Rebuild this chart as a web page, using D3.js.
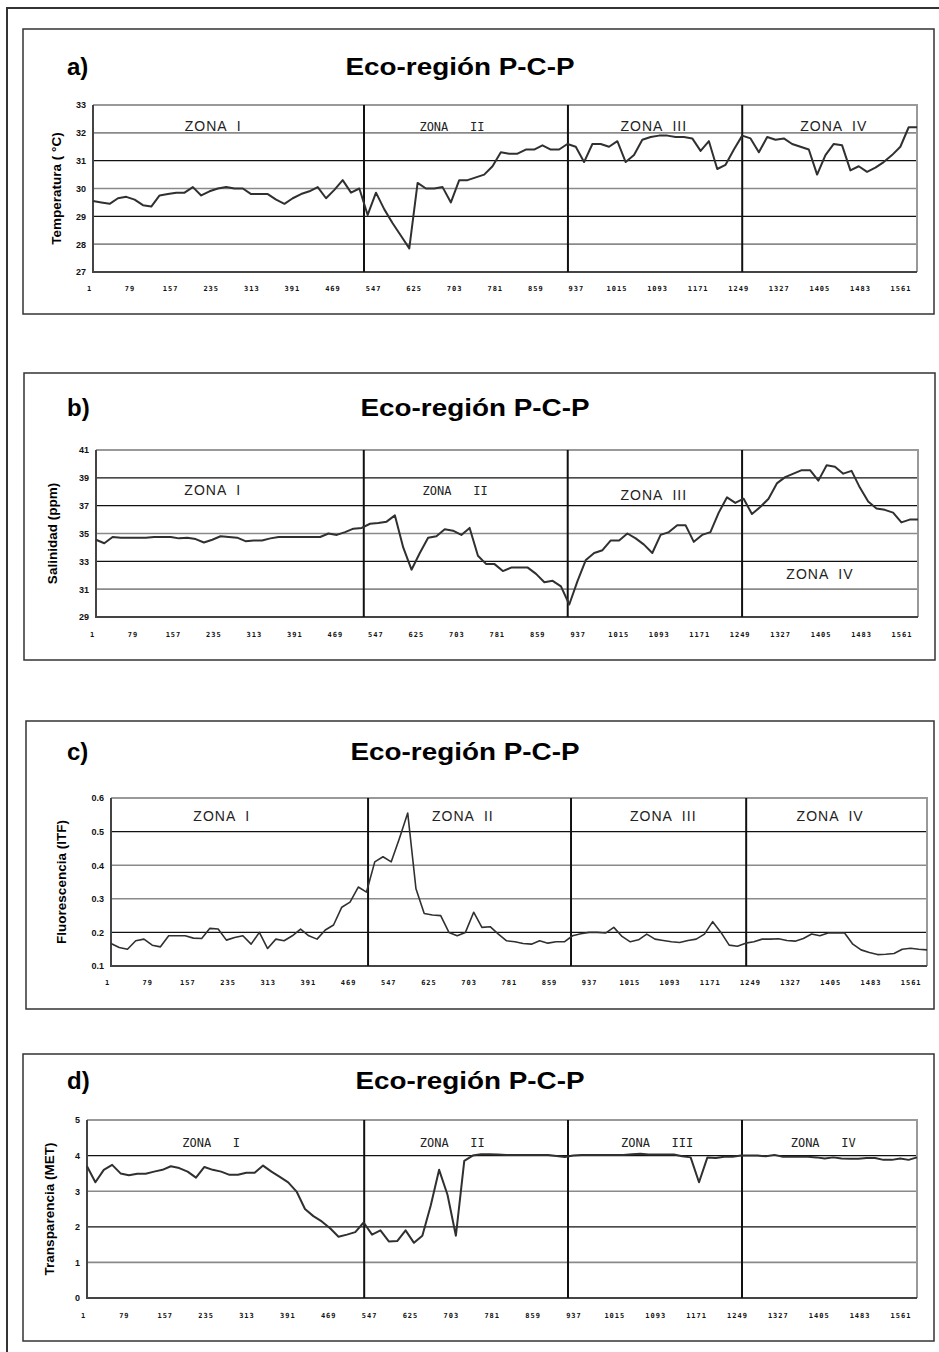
<!DOCTYPE html>
<html>
<head>
<meta charset="utf-8">
<script src="https://cdn.jsdelivr.net/npm/d3@7"></script>
<style>
  body { margin: 0; background: #fff; }
  svg { display: block; }
</style>
</head>
<body>
<svg id="chart" width="939" height="1352"></svg>
<script>
// record numbers shown under every x axis
const xTickLabels = [1, 79, 157, 235, 313, 391, 469, 547, 625, 703, 781, 859, 937, 1015, 1093, 1171, 1249, 1327, 1405, 1483, 1561];

// one reading every 16 records
const SAMPLE_STEP = 16;

const temperatura = [
  29.55, 29.5, 29.45, 29.65, 29.7, 29.6, 29.4, 29.35, 29.75, 29.8,
  29.85, 29.85, 30.05, 29.75, 29.9, 30.0, 30.05, 30.0, 30.0, 29.8,
  29.8, 29.8, 29.6, 29.45, 29.65, 29.8, 29.9, 30.05, 29.65, 29.95,
  30.3, 29.85, 30.0, 29.05, 29.85, 29.25, 28.75, 28.3, 27.85, 30.2,
  30.0, 30.0, 30.05, 29.5, 30.3, 30.3, 30.4, 30.5, 30.8, 31.3,
  31.25, 31.25, 31.4, 31.4, 31.55, 31.4, 31.4, 31.6, 31.5, 30.95,
  31.6, 31.6, 31.5, 31.7, 30.95, 31.2, 31.75, 31.85, 31.9, 31.9,
  31.85, 31.85, 31.8, 31.35, 31.7, 30.7, 30.85, 31.4, 31.9, 31.8,
  31.3, 31.85, 31.75, 31.8, 31.6, 31.5, 31.4, 30.5, 31.2, 31.6,
  31.55, 30.65, 30.8, 30.6, 30.75, 30.95, 31.2, 31.5, 32.2, 32.2
];

const salinidad = [
  34.55, 34.3, 34.75, 34.7, 34.7, 34.7, 34.7, 34.75, 34.75, 34.75,
  34.65, 34.7, 34.6, 34.35, 34.55, 34.8, 34.75, 34.7, 34.45, 34.5,
  34.5, 34.65, 34.75, 34.75, 34.75, 34.75, 34.75, 34.75, 35.0, 34.9,
  35.1, 35.35, 35.4, 35.7, 35.75, 35.85, 36.3, 34.0, 32.4, 33.6,
  34.7, 34.8, 35.3, 35.2, 34.9, 35.4, 33.4, 32.8, 32.8, 32.3,
  32.55, 32.55, 32.55, 32.1, 31.5, 31.6, 31.2, 29.9, 31.6, 33.1,
  33.6, 33.8, 34.5, 34.5, 35.0, 34.65, 34.2, 33.6, 34.9, 35.1,
  35.6, 35.6, 34.4, 34.9, 35.1, 36.5, 37.6, 37.2, 37.5, 36.4,
  36.9, 37.5, 38.6, 39.05, 39.3, 39.55, 39.55, 38.8, 39.9, 39.8,
  39.3, 39.5, 38.3, 37.3, 36.8, 36.7, 36.5, 35.8, 36.0, 36.0
];

const fluorescencia = [
  0.167, 0.155, 0.15, 0.175, 0.18, 0.162, 0.157, 0.19, 0.19, 0.19,
  0.183, 0.182, 0.212, 0.21, 0.177, 0.185, 0.19, 0.165, 0.2, 0.152,
  0.18, 0.175, 0.19, 0.21, 0.19, 0.18, 0.207, 0.222, 0.275, 0.29,
  0.335, 0.32, 0.41, 0.425, 0.41, 0.48, 0.555, 0.33, 0.256, 0.252,
  0.25, 0.2, 0.19, 0.2, 0.26, 0.215, 0.217, 0.195, 0.175, 0.172,
  0.167, 0.165, 0.175, 0.168, 0.172, 0.172, 0.19, 0.196, 0.2, 0.2,
  0.198, 0.215, 0.188, 0.172, 0.178, 0.195, 0.18, 0.176, 0.172, 0.17,
  0.176, 0.18, 0.195, 0.232, 0.2, 0.162, 0.159, 0.168, 0.172, 0.18,
  0.18, 0.181, 0.176, 0.174, 0.182, 0.195, 0.19, 0.198, 0.198, 0.198,
  0.165, 0.148, 0.14, 0.134, 0.135, 0.137, 0.15, 0.153, 0.15, 0.148
];

const transparencia = [
  3.7, 3.25, 3.6, 3.74, 3.5, 3.45, 3.49, 3.49, 3.55, 3.6,
  3.7, 3.65, 3.55, 3.38, 3.68, 3.6, 3.55, 3.46, 3.46, 3.52,
  3.52, 3.72, 3.55, 3.4, 3.25, 2.99, 2.5, 2.3, 2.15, 1.96,
  1.72, 1.78, 1.85, 2.12, 1.78, 1.9, 1.59, 1.6, 1.9, 1.55,
  1.75, 2.6, 3.6, 2.9, 1.75, 3.85, 4.0, 4.04, 4.04, 4.03,
  4.02, 4.02, 4.02, 4.02, 4.02, 4.02, 3.99, 3.96, 4.0, 4.02,
  4.02, 4.02, 4.02, 4.02, 4.02, 4.04, 4.05, 4.03, 4.03, 4.03,
  4.03, 3.98, 3.95, 3.25, 3.95, 3.93, 3.97, 3.97, 4.0, 4.0,
  4.0, 3.98, 4.02, 3.97, 3.97, 3.97, 3.97, 3.95, 3.92, 3.95,
  3.92, 3.91, 3.91, 3.93, 3.93, 3.88, 3.88, 3.92, 3.88, 3.95
];

const tempTicks = [27, 28, 29, 30, 31, 32, 33];
const salTicks = [29, 31, 33, 35, 37, 39, 41];
const fluorTicks = [0.1, 0.2, 0.3, 0.4, 0.5, 0.6];
const transTicks = [0, 1, 2, 3, 4, 5];

const zoneNames = ["I", "II", "III", "IV"];
const panelTitle = "Eco-región P-C-P";

const SANS = "'Liberation Sans', Arial, sans-serif";
const MONO = "'DejaVu Sans Mono', monospace";
const INK = "#333";

// layout of the four panels (pixels), zone marks in record / value units
const panels = [
  { tag: "a)", values: temperatura, yTitle: "Temperatura ( °C)", ticks: tempTicks, fmt: d3.format("d"),
    box: [23, 29, 934, 314], plot: [93, 917, 105, 272], darkGrid: [29, 31],
    dividers: [522, 914, 1249], zoneAt: [[232, 32.2], [691, 32.2], [1079, 32.2], [1425, 32.2]],
    zoneMono: [false, true, false, false], titleY: 75, titleCx: 460, yTitleX: 57, xLabY: 289, lineW: 2 },
  { tag: "b)", values: salinidad, yTitle: "Salinidad (ppm)", ticks: salTicks, fmt: d3.format("d"),
    box: [24, 373, 935, 660], plot: [96, 918, 450, 617], darkGrid: [33, 37, 39],
    dividers: [517, 910, 1246], zoneAt: [[226, 38.0], [693, 38.0], [1076, 37.7], [1396, 32.0]],
    zoneMono: [false, true, false, false], titleY: 416, titleCx: 475, yTitleX: 53, xLabY: 635, lineW: 2 },
  { tag: "c)", values: fluorescencia, yTitle: "Fluorescencia (ITF)", ticks: fluorTicks, fmt: d3.format(".1f"),
    box: [26, 721, 934, 1009], plot: [111, 927, 798, 966], darkGrid: [0.2, 0.5],
    dividers: [500, 894, 1234], zoneAt: [[216, 0.543], [684, 0.543], [1073, 0.543], [1397, 0.543]],
    zoneMono: [false, false, false, false], titleY: 760, titleCx: 465, yTitleX: 62, xLabY: 983, lineW: 1.6 },
  { tag: "d)", values: transparencia, yTitle: "Transparencia (MET)", ticks: transTicks, fmt: d3.format("d"),
    box: [23, 1054, 934, 1341], plot: [87, 917, 1120, 1298], darkGrid: [2, 4],
    dividers: [530, 919, 1251], zoneAt: [[238, 4.35], [698, 4.35], [1089, 4.35], [1406, 4.35]],
    zoneMono: [true, true, true, true], titleY: 1089, titleCx: 470, yTitleX: 50, xLabY: 1316, lineW: 2 }
];

const svg = d3.select("#chart");

// outer frame (runs off the page at right and bottom)
svg.append("path")
  .attr("d", "M7,1352 V8 H939")
  .attr("fill", "none")
  .attr("stroke", INK)
  .attr("stroke-width", 2);

panels.forEach(function (p) {
  const g = svg.append("g");
  const lastRecord = 1 + SAMPLE_STEP * (p.values.length - 1);

  const x = d3.scaleLinear().domain([1, lastRecord]).range([p.plot[0], p.plot[1]]);
  const y = d3.scaleLinear().domain(d3.extent(p.ticks)).range([p.plot[3], p.plot[2]]);

  g.append("rect")
    .attr("x", p.box[0]).attr("y", p.box[1])
    .attr("width", p.box[2] - p.box[0]).attr("height", p.box[3] - p.box[1])
    .attr("fill", "#fff").attr("stroke", INK).attr("stroke-width", 1.5);

  // titles (the original lettering is a bit wider than Arial)
  g.append("text")
    .attr("x", 67).attr("y", p.titleY)
    .style("font", "bold 24px " + SANS)
    .text(p.tag);
  g.append("text")
    .attr("x", p.titleCx).attr("y", p.titleY)
    .attr("text-anchor", "middle")
    .attr("textLength", 229)
    .attr("lengthAdjust", "spacingAndGlyphs")
    .style("font", "bold 24px " + SANS)
    .text(panelTitle);

  // horizontal grid
  g.selectAll(".grid")
    .data(p.ticks.slice(1, -1))
    .join("line")
    .attr("x1", p.plot[0]).attr("x2", p.plot[1])
    .attr("y1", d => y(d)).attr("y2", d => y(d))
    .attr("stroke", d => p.darkGrid.includes(d) ? "#111" : "#8a8a8a")
    .attr("stroke-width", d => p.darkGrid.includes(d) ? 1.2 : 1.6);

  // plot frame: grey top / right, dark left / bottom
  const top = y(p.ticks[p.ticks.length - 1]), bottom = y(p.ticks[0]);
  g.append("path")
    .attr("d", `M${x(1)},${top} H${x(lastRecord)} V${bottom}`)
    .attr("fill", "none").attr("stroke", "#999").attr("stroke-width", 2);
  g.append("path")
    .attr("d", `M${x(1)},${top} V${bottom} H${x(lastRecord)}`)
    .attr("fill", "none").attr("stroke", "#444").attr("stroke-width", 2);

  // zone dividers
  g.selectAll(".div")
    .data(p.dividers)
    .join("line")
    .attr("x1", d => x(d)).attr("x2", d => x(d))
    .attr("y1", top).attr("y2", bottom)
    .attr("stroke", "#111").attr("stroke-width", 2);

  // zone labels
  g.selectAll(".zone")
    .data(zoneNames)
    .join("text")
    .attr("x", (d, k) => x(p.zoneAt[k][0]))
    .attr("y", (d, k) => y(p.zoneAt[k][1]))
    .attr("text-anchor", "middle")
    .attr("dominant-baseline", "middle")
    .style("white-space", "pre")
    .style("font", (d, k) => p.zoneMono[k] ? "12px " + MONO : "14px " + SANS)
    .style("letter-spacing", (d, k) => p.zoneMono[k] ? "0px" : "1px")
    .style("fill", "#222")
    .text((d, k) => p.zoneMono[k] ? "ZONA   " + d : "ZONA  " + d);

  // series line
  const line = d3.line()
    .x((d, k) => x(1 + SAMPLE_STEP * k))
    .y(d => y(d));
  g.append("path")
    .datum(p.values)
    .attr("d", line)
    .attr("fill", "none")
    .attr("stroke", "#303030")
    .attr("stroke-width", p.lineW)
    .attr("stroke-linejoin", "round");

  // y axis labels
  const yAxis = d3.axisLeft(y).tickValues(p.ticks).tickFormat(p.fmt).tickSize(0).tickPadding(7);
  const ya = g.append("g").attr("transform", `translate(${p.plot[0]},0)`).call(yAxis);
  ya.select(".domain").remove();
  ya.selectAll("text").style("font", "bold 9px " + SANS).style("fill", "#111");

  // x axis labels
  const xAxis = d3.axisBottom(x).tickValues(xTickLabels).tickFormat(d3.format("d")).tickSize(0).tickPadding(0);
  const xa = g.append("g").attr("transform", `translate(0,${p.xLabY})`).call(xAxis);
  xa.select(".domain").remove();
  xa.selectAll("text")
    .attr("x", -4).attr("dy", "0.35em")
    .style("font", "bold 7px " + MONO)
    .style("letter-spacing", "1px")
    .style("fill", "#111");

  // y title
  g.append("text")
    .attr("transform", `translate(${p.yTitleX},${(top + bottom) / 2}) rotate(-90)`)
    .attr("text-anchor", "middle")
    .attr("dominant-baseline", "middle")
    .style("font", "bold 13.5px " + SANS)
    .text(p.yTitle);
});
</script>
</body>
</html>
